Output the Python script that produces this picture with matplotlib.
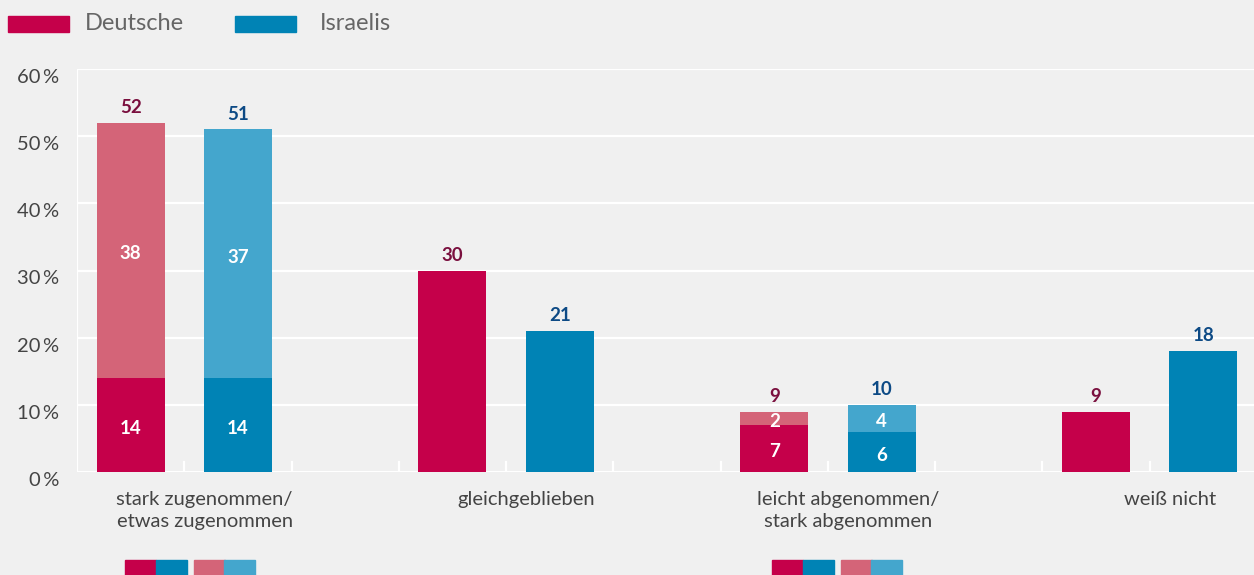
import matplotlib.pyplot as plt
from matplotlib.patches import Rectangle
from matplotlib.transforms import ScaledTranslation

categories = ['stark zugenommen/\netwas zugenommen', 'gleichgeblieben',
              'leicht abgenommen/\nstark abgenommen', 'weiß nicht']
de_base = [14, 30, 7, 9]
de_top = [38, 0, 2, 0]
de_total = [52, 30, 9, 9]
il_base = [14, 21, 6, 18]
il_top = [37, 0, 4, 0]
il_total = [51, 21, 10, 18]
yticks = [0, 10, 20, 30, 40, 50, 60]

bg = '#f0f0f0'
de_dark, de_light = '#c5004a', '#d46478'
il_dark, il_light = '#0083b5', '#44a6cd'
de_txt, il_txt = '#7a0f3e', '#0d4a85'
grey = '#444444'
plt.rcParams['font.family'] = ['Lato', 'DejaVu Sans']

W, H = 1254, 575
fig = plt.figure(figsize=(W / 100, H / 100), dpi=100, facecolor=bg)
ax = fig.add_axes([77 / W, (H - 472) / H, 1180 / W, 403 / H])
ax.set_facecolor(bg)
ax.set_xlim(-0.5, 10.5)
ax.set_ylim(0, 60)
for s in ax.spines.values():
    s.set_visible(False)

# grid
for y in yticks:
    ax.axhline(y, color='white', lw=1.6 if y else 2.2, zorder=1)
ax.axvline(-0.5, color='white', lw=1.6, zorder=1)
for b in range(10):
    ax.plot([b + 0.5, b + 0.5], [0, 1.5], color='white', lw=1.6, zorder=1)

bw = 0.634
fs_val = 13.5


def inner(x, y, v):
    ax.text(x, y - 0.5, str(v), ha='center', va='center',
            color='white', fontsize=fs_val, fontweight='bold', zorder=3)


for i in range(len(categories)):
    xd = i * 3
    xi = i * 3 + 1
    ax.bar(xd, de_base[i], bw, color=de_dark, zorder=2)
    ax.bar(xi, il_base[i], bw, color=il_dark, zorder=2)
    if de_top[i]:
        ax.bar(xd, de_top[i], bw, bottom=de_base[i], color=de_light, zorder=2)
        inner(xd, de_base[i] + de_top[i] / 2, de_top[i])
        inner(xd, de_base[i] / 2, de_base[i])
    if il_top[i]:
        ax.bar(xi, il_top[i], bw, bottom=il_base[i], color=il_light, zorder=2)
        inner(xi, il_base[i] + il_top[i] / 2, il_top[i])
        inner(xi, il_base[i] / 2, il_base[i])
    ax.text(xd, de_total[i] + 1.0, str(de_total[i]), ha='center', va='bottom',
            color=de_txt, fontsize=fs_val, fontweight='bold')
    ax.text(xi, il_total[i] + 1.0, str(il_total[i]), ha='center', va='bottom',
            color=il_txt, fontsize=fs_val, fontweight='bold')
    ax.text(i * 3 + 0.5 + 0.19, -2.9, categories[i], ha='center', va='top',
            color=grey, fontsize=14.5, linespacing=1.35)

ax.set_xticks([])
ax.set_yticks(yticks)
ax.set_yticklabels([f'{y}\u2009%' for y in yticks], fontsize=14.5, color=grey)
ax.tick_params(axis='y', length=0, pad=13)
shift = ScaledTranslation(0, -7 / 100, fig.dpi_scale_trans)
for lab in ax.get_yticklabels():
    lab.set_transform(lab.get_transform() + shift)

# top legend
fig.patches.append(Rectangle((8 / W, 1 - 32 / H), 61 / W, 16 / H, transform=fig.transFigure,
                             color=de_dark, figure=fig))
fig.patches.append(Rectangle((235 / W, 1 - 32 / H), 61 / W, 16 / H, transform=fig.transFigure,
                             color=il_dark, figure=fig))
fig.text(85 / W, 1 - 23 / H, 'Deutsche', fontsize=17, color='#666666', va='center')
fig.text(320 / W, 1 - 23 / H, 'Israelis', fontsize=17, color='#666666', va='center')

# small legend swatches at the bottom
for x0 in (125, 772):
    for dx, c in [(0, de_dark), (31, il_dark), (69, de_light), (99, il_light)]:
        fig.patches.append(Rectangle(((x0 + dx) / W, 0), 31 / W, 15 / H,
                                     transform=fig.transFigure, color=c, figure=fig))

fig.savefig('out.png', dpi=100, facecolor=bg)
